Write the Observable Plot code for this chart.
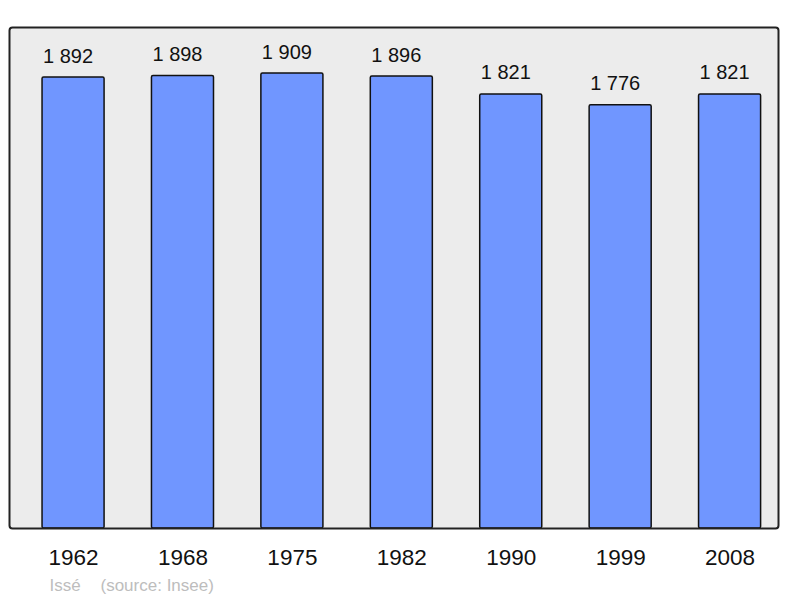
<!DOCTYPE html>
<html>
<head>
<meta charset="utf-8">
<script src="https://cdn.jsdelivr.net/npm/d3@7"></script>
<script src="https://cdn.jsdelivr.net/npm/@observablehq/plot@0.6"></script>
<style>
  html, body { margin: 0; padding: 0; background: #ffffff; }
  #chart svg { display: block; }
</style>
</head>
<body>
<div id="chart"></div>
<script>
const years = ["1962", "1968", "1975", "1982", "1990", "1999", "2008"];
const population = [1892, 1898, 1909, 1896, 1821, 1776, 1821];
const commune = "Issé";
const source = "(source: Insee)";

const data = years.map((y, i) => ({year: y, value: population[i]}));
const fmt = d3.formatLocale({decimal: ",", thousands: " ", grouping: [3]}).format(",d");
const font = "'Liberation Sans', Arial, sans-serif";

const chart = Plot.plot({
  width: 800,
  height: 598,
  marginTop: 27,
  marginBottom: 70,
  marginLeft: 9,
  marginRight: 22,
  style: {fontFamily: font, background: "#ffffff"},
  x: {domain: years, padding: 0.433, paddingOuter: 0.2305, align: 0.655, round: false, label: null},
  y: {domain: [0, 2102], axis: null},
  marks: [
    Plot.frame({fill: "#ececec", stroke: "none", rx: 3}),
    Plot.barY(data, {x: "year", y: "value", fill: "#7096ff", stroke: "#111", strokeWidth: 1.5, rx: 1.5}),
    Plot.text(data, {x: "year", y: "value", text: d => fmt(d.value), lineAnchor: "bottom", dx: -5.5, dy: -15, fontSize: 20, fill: "#111"}),
    Plot.frame({stroke: "#222", strokeWidth: 2, rx: 3}),
    Plot.axisX({tickSize: 0, tickPadding: 21, fontSize: 22.5, label: null, fill: "#111"}),
    Plot.text([commune], {frameAnchor: "bottom-left", text: d => d, dx: 40, dy: 62, lineAnchor: "bottom", fontSize: 17, fill: "#bdbdbd", textAnchor: "start"}),
    Plot.text([source], {frameAnchor: "bottom-left", text: d => d, dx: 91, dy: 62, lineAnchor: "bottom", fontSize: 17, fill: "#bdbdbd", textAnchor: "start"})
  ]
});
document.getElementById("chart").appendChild(chart);
</script>
</body>
</html>
